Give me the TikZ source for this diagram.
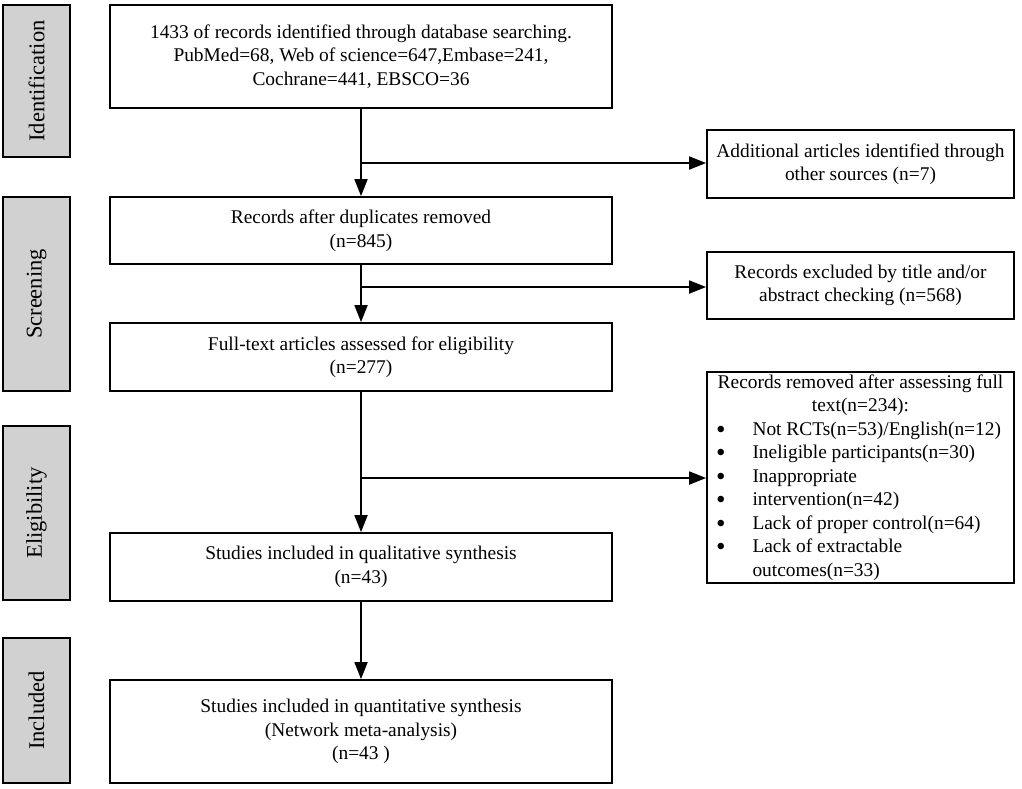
\documentclass[tikz,border=0pt]{standalone}
\usepackage{fontspec}
\setmainfont{Liberation Serif}
\usetikzlibrary{arrows.meta}
\newcommand{\bigdot}{\raisebox{-2.8pt}[0pt][0pt]{\scalebox{1.4}{\textbullet}}}
\begin{document}
\begin{tikzpicture}[x=1pt,y=-1pt,
  mainbox/.style={draw=black, line width=1.8pt, fill=white, minimum width=502pt, align=center, inner sep=0pt,
    font=\fontsize{19.4}{23.5}\selectfont},
  rbox/.style={draw=black, line width=1.8pt, fill=white, minimum width=307pt, align=center, inner sep=0pt,
    font=\fontsize{19.4}{23.5}\selectfont},
  sidebox/.style={draw=black, line width=2.2pt, fill=black!18, minimum width=67pt, inner sep=0pt,
    font=\fontsize{22.5}{26}\selectfont},
  arr/.style={line width=1.8pt, -{Triangle[length=17pt,width=13pt]}}]
\useasboundingbox (0,0) rectangle (1022,788);
% side labels
\node[sidebox, minimum height=152pt] (s1) at (36.5,81) {\rotatebox{90}{Identification}};
\node[sidebox, minimum height=194pt] (s2) at (36.5,294) {\rotatebox{90}{Screening}};
\node[sidebox, minimum height=174pt] (s3) at (36.5,513) {\rotatebox{90}{Eligibility}};
\node[sidebox, minimum height=145pt] (s4) at (36.5,710.5) {\rotatebox{90}{Included}};
% main column
\node[mainbox, minimum height=103pt] (b1) at (361,56.5) {1433 of records identified through database searching.\\PubMed=68, Web of science=647,Embase=241,\\Cochrane=441, EBSCO=36};
\node[mainbox, minimum height=67pt] (b2) at (361,230.5) {Records after duplicates removed\\(n=845)};
\node[mainbox, minimum height=68pt] (b3) at (361,357) {Full-text articles assessed for eligibility\\(n=277)};
\node[mainbox, minimum height=68pt] (b4) at (361,567) {Studies included in qualitative synthesis\\(n=43)};
\node[mainbox, minimum height=103pt] (b5) at (361,731.5) {Studies included in quantitative synthesis\\(Network meta-analysis)\\(n=43 )};
% right column
\node[rbox, minimum height=68pt] (r1) at (860.5,164) {Additional articles identified through\\other sources (n=7)};
\node[rbox, minimum height=67pt] (r2) at (860.5,285.5) {Records excluded by title and/or\\abstract checking (n=568)};
\node[rbox, minimum height=211pt] (r3) at (860.5,477.5) {%
\begin{tabular}{@{\hspace{6pt}}c@{\hspace{27pt}}l@{\hspace{10pt}}}
\multicolumn{2}{@{}c@{}}{Records removed after assessing full}\\
\multicolumn{2}{@{}c@{}}{text(n=234):}\\
\bigdot & Not RCTs(n=53)/English(n=12)\\
\bigdot & Ineligible participants(n=30)\\
\bigdot & Inappropriate\\
\bigdot & intervention(n=42)\\
\bigdot & Lack of proper control(n=64)\\
\bigdot & Lack of extractable\\
 & outcomes(n=33)
\end{tabular}};
% branch points
\coordinate (c1) at (361,163);
\coordinate (c2) at (361,287);
\coordinate (c3) at (361,478);
% connectors
\draw[arr] (b1.south) -- (b2.north);
\draw[arr] (b2.south) -- (b3.north);
\draw[arr] (b3.south) -- (b4.north);
\draw[arr] (b4.south) -- (b5.north);
\draw[arr] (c1) -- (c1 -| r1.west);
\draw[arr] (c2) -- (c2 -| r2.west);
\draw[arr] (c3) -- (c3 -| r3.west);
\end{tikzpicture}
\end{document}
